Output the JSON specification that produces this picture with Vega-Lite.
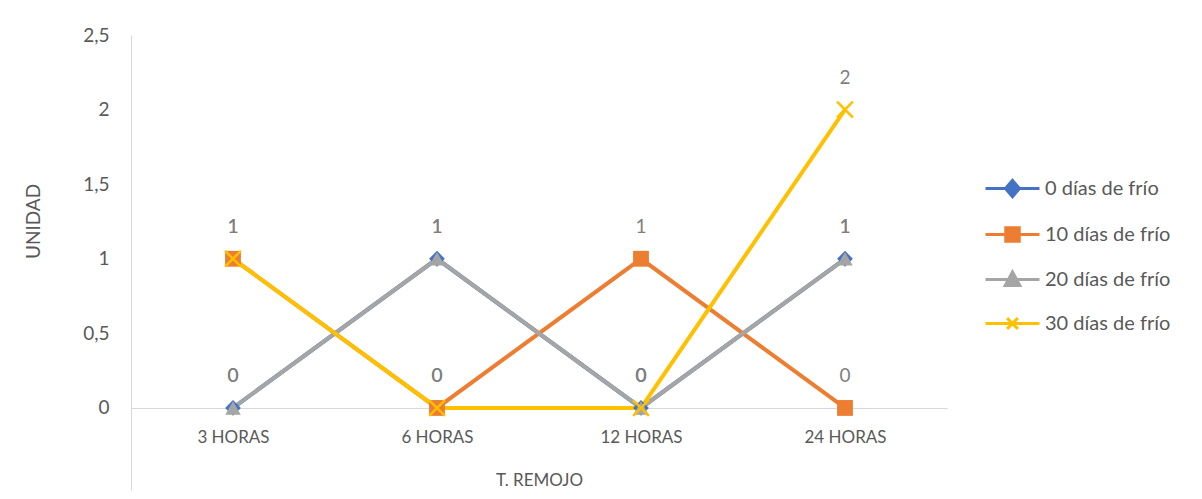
{
  "$schema": "https://vega.github.io/schema/vega-lite/v6.json",
  "width": 816,
  "height": 455,
  "autosize": {"type": "none"},
  "padding": {"left": 131, "top": 35, "right": 255, "bottom": 9},
  "background": "white",
  "config": {"view": {"stroke": null}, "font": "Lato"},
  "data": {
    "values": [
      {"tiempo": "3 HORAS", "serie": "0 días de frío", "valor": 0},
      {"tiempo": "6 HORAS", "serie": "0 días de frío", "valor": 1},
      {"tiempo": "12 HORAS", "serie": "0 días de frío", "valor": 0},
      {"tiempo": "24 HORAS", "serie": "0 días de frío", "valor": 1},
      {"tiempo": "3 HORAS", "serie": "10 días de frío", "valor": 1},
      {"tiempo": "6 HORAS", "serie": "10 días de frío", "valor": 0},
      {"tiempo": "12 HORAS", "serie": "10 días de frío", "valor": 1},
      {"tiempo": "24 HORAS", "serie": "10 días de frío", "valor": 0},
      {"tiempo": "3 HORAS", "serie": "20 días de frío", "valor": 0},
      {"tiempo": "6 HORAS", "serie": "20 días de frío", "valor": 1},
      {"tiempo": "12 HORAS", "serie": "20 días de frío", "valor": 0},
      {"tiempo": "24 HORAS", "serie": "20 días de frío", "valor": 1},
      {"tiempo": "3 HORAS", "serie": "30 días de frío", "valor": 1},
      {"tiempo": "6 HORAS", "serie": "30 días de frío", "valor": 0},
      {"tiempo": "12 HORAS", "serie": "30 días de frío", "valor": 0},
      {"tiempo": "24 HORAS", "serie": "30 días de frío", "valor": 2}
    ]
  },
  "encoding": {
    "x": {
      "field": "tiempo", "type": "ordinal", "sort": ["3 HORAS", "6 HORAS", "12 HORAS", "24 HORAS"],
      "scale": {"type": "point", "padding": 0.5},
      "axis": {
        "title": "T. REMOJO", "offset": -82, "labelAngle": 0, "ticks": false, "tickSize": 0, "grid": false,
        "domainColor": "#d9d9d9", "domainWidth": 1, "labelFontSize": 17, "labelColor": "#595959", "labelPadding": 21,
        "titleFontSize": 17, "titleFontWeight": "normal", "titleColor": "#595959", "titlePadding": 27
      }
    },
    "y": {
      "field": "valor", "type": "quantitative",
      "scale": {"domain": [-0.55, 2.5], "nice": false, "zero": false},
      "axis": {
        "title": "UNIDAD", "values": [0, 0.5, 1, 1.5, 2, 2.5], "format": "~g",
        "labelExpr": "replace(datum.label, '.', ',')", "grid": false, "ticks": false, "tickSize": 0,
        "domainColor": "#d9d9d9", "domainWidth": 1, "labelFontSize": 19, "labelColor": "#595959", "labelPadding": 22,
        "titleFontSize": 19, "titleFontWeight": "normal", "titleColor": "#595959", "titlePadding": 39, "titleY": 186
      }
    }
  },
  "layer": [
    {
      "mark": {"type": "line", "strokeWidth": 4},
      "encoding": {
        "color": {
          "field": "serie", "type": "nominal",
          "scale": {"domain": ["0 días de frío", "10 días de frío", "20 días de frío", "30 días de frío"], "range": ["#4472C4", "#ED7D31", "#A5A5A5", "#FFC000"]},
          "legend": {
            "orient": "none", "legendX": 853, "legendY": 125, "title": null,
            "labelFontSize": 20, "labelColor": "#595959", "labelFont": "Lato",
            "symbolSize": 2916, "symbolStrokeWidth": 3, "rowPadding": 3, "labelOffset": 4,
            "encode": {
              "symbols": {
                "update": {
                  "shape": {"signal": "datum.value == '0 días de frío' ? 'M-1,0H1M0,-0.3L0.26,0L0,0.3L-0.26,0Z' : datum.value == '10 días de frío' ? 'M-1,0H1M-0.25,-0.25H0.25V0.25H-0.25Z' : datum.value == '20 días de frío' ? 'M-1,0H1M0,-0.28L0.27,0.22H-0.27Z' : 'M-1,0H1M-0.2,-0.2L0.2,0.2M-0.2,0.2L0.2,-0.2'"},
                  "fill": {"scale": "color", "field": "value"},
                  "stroke": {"scale": "color", "field": "value"},
                  "strokeWidth": {"value": 3},
                  "opacity": {"value": 1}
                }
              }
            }
          }
        }
      }
    },
    {
      "transform": [{"filter": "datum.serie == '0 días de frío'"}],
      "mark": {"type": "point", "shape": "diamond", "filled": true, "size": 250, "opacity": 1, "color": "#4472C4"}
    },
    {
      "transform": [{"filter": "datum.serie == '10 días de frío'"}],
      "mark": {"type": "point", "shape": "square", "filled": true, "size": 250, "opacity": 1, "color": "#ED7D31"}
    },
    {
      "transform": [{"filter": "datum.serie == '20 días de frío'"}],
      "mark": {"type": "point", "shape": "triangle-up", "filled": true, "size": 240, "opacity": 1, "color": "#A5A5A5"}
    },
    {
      "transform": [{"filter": "datum.serie == '30 días de frío'"}],
      "mark": {"type": "point", "shape": "M-1,-1L1,1M-1,1L1,-1", "filled": false, "size": 250, "opacity": 1, "strokeWidth": 2.5, "color": "#FFC000"}
    },
    {
      "mark": {"type": "text", "dy": -32, "fontSize": 19, "color": "#7f7f7f", "font": "Lato"},
      "encoding": {
        "text": {"field": "valor", "type": "quantitative"}
      }
    }
  ]
}
